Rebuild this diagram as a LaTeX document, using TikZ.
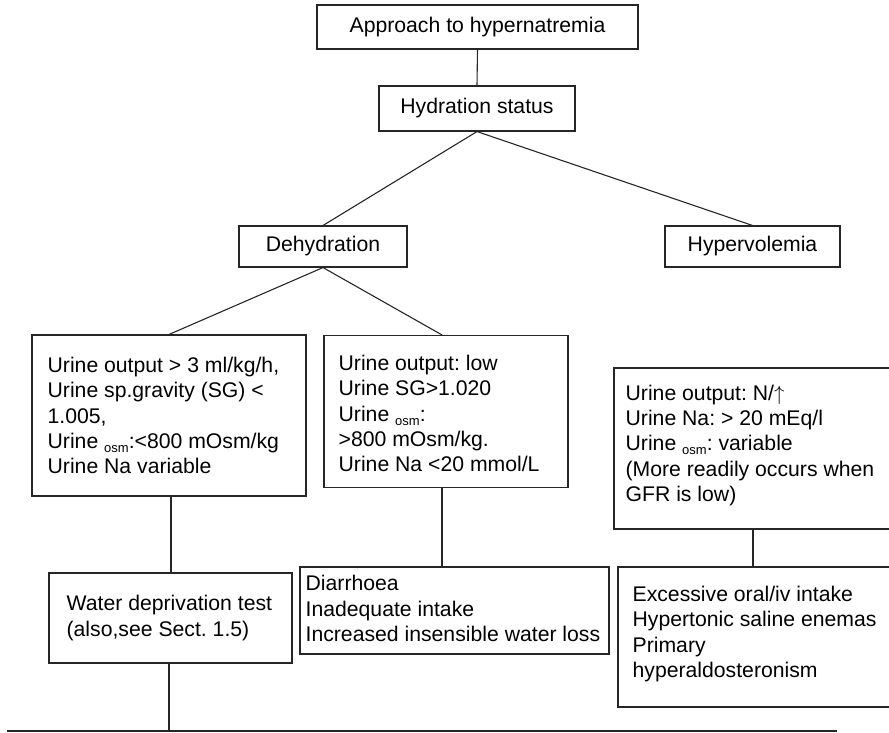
\documentclass[tikz,border=0pt]{standalone}
\usepackage{fontspec}
\setmainfont{Liberation Sans}
\frenchspacing
\newcommand\osmsub{\raisebox{-4pt}{\fontsize{13}{13}\selectfont osm}}
\begin{document}
\begin{tikzpicture}[x=1pt,y=-1pt,
  font=\fontsize{21.2}{25.2}\selectfont,
  box/.style={draw=black!85, line width=1.1pt, rectangle, inner sep=0pt},
  txt/.style={inner sep=0pt, align=left, anchor=west},
  conn/.style={draw=black!85, line width=1.1pt}]
\useasboundingbox (0,0) rectangle (889,732);
\clip (0,0) rectangle (889,732);
% simple boxes
\node[box, minimum width=321pt, minimum height=44pt] (top) at (477.5,27) {Approach to hypernatremia};
\node[box, minimum width=196pt, minimum height=45pt] (hyd) at (477,108.5) {Hydration status};
\node[box, minimum width=168pt, minimum height=41pt] (deh) at (323,246.5) {Dehydration};
\node[box, minimum width=175pt, minimum height=41pt] (hyp) at (752.5,246.5) {Hypervolemia};
% detail boxes
\node[box, minimum width=274pt, minimum height=161pt] (b1) at (169,415.5) {};
\node[txt] (b1t) at ([xshift=16pt]b1.west) {Urine output > 3 ml/kg/h,\\Urine sp.gravity (SG) <\\1.005,\\Urine \osmsub:<800 mOsm/kg\\Urine Na variable};
\node[box, minimum width=244pt, minimum height=152pt] (b2) at (446,411.5) {};
\node[txt] (b2t) at ([xshift=15pt,yshift=-2pt]b2.west) {Urine output: low\\Urine SG>1.020\\Urine \osmsub:\\>800 mOsm/kg.\\Urine Na <20 mmol/L};
\node[box, minimum width=278pt, minimum height=161pt] (b3) at (753,448.5) {};
\node[txt] (b3t) at ([xshift=12pt,yshift=3pt]b3.west) {Urine output: N/$\uparrow$\\Urine Na: > 20 mEq/l\\Urine \osmsub: variable\\(More readily occurs when\\GFR is low)};
\node[box, minimum width=243pt, minimum height=90pt] (wd) at (170.5,618) {};
\node[txt] (wdt) at ([xshift=18pt]wd.west) {Water deprivation test\\(also,see Sect. 1.5)};
\node[box, minimum width=309pt, minimum height=87pt] (dia) at (454.5,610.5) {};
\node[txt] (diat) at ([xshift=6pt,yshift=2pt]dia.west) {Diarrhoea\\Inadequate intake\\Increased insensible water loss};
\node[box, minimum width=274pt, minimum height=140pt] (b4) at (755,637) {};
\node[txt] (b4t) at ([xshift=15pt,yshift=3pt]b4.west) {Excessive oral/iv intake\\Hypertonic saline enemas\\Primary\\hyperaldosteronism};
% bottom line
\coordinate (bl) at (7,731);
\coordinate (br) at (837,731);
% connectors
\draw[conn] (top.south) -- (hyd.north);
\draw[conn] (deh.north) -- (hyd.south) -- (hyp.north);
\draw[conn] (b1.north) -- (deh.south) -- ([xshift=-4pt]b2.north);
\draw[conn] ([xshift=2pt]b1.south) -- ([xshift=2pt]b1.south |- wd.north);
\draw[conn] ([xshift=-4pt]b2.south) -- ([xshift=-4pt]b2.south |- dia.north);
\draw[conn] (b3.south) -- (b3.south |- b4.north);
\draw[conn] ([xshift=-1.5pt]wd.south) -- ([xshift=-1.5pt]wd.south |- bl);
\draw[conn] (bl) -- (br);
\end{tikzpicture}
\end{document}
